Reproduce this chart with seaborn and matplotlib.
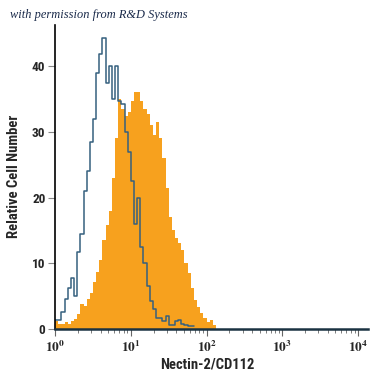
import numpy as np
import matplotlib
matplotlib.use("Agg")
import matplotlib.pyplot as plt
from matplotlib import font_manager
import seaborn as sns

# --- data: histogram counts, 24 bins per decade starting at 10^0 ---
BINS_PER_DECADE = 24

isotype_counts = [1.4, 1.4, 2.6, 4.6, 6.2, 7.7, 5.0, 11.7, 14.5, 21.0,
                  24.0, 28.5, 32.0, 39.0, 41.8, 44.3, 37.5, 40.0, 35.0, 40.0,
                  34.7, 34.2, 30.0, 27.0, 22.5, 16.0, 20.0, 12.5, 10.0, 6.5,
                  4.2, 3.0, 1.6, 1.6, 1.2, 1.9, 0.6, 0.6, 1.2, 1.4,
                  0.8, 0.6, 0.4, 0.5]

nectin_counts = [1.2, 0.8, 0.8, 1.0, 0.8, 1.2, 1.5, 2.2, 3.8, 3.5,
                 4.5, 5.5, 7.2, 8.7, 10.5, 13.5, 15.8, 18.0, 23.0, 29.0,
                 35.0, 33.5, 32.4, 33.0, 34.7, 36.0, 36.0, 34.7, 33.5, 32.7,
                 31.0, 29.5, 31.5, 29.0, 26.0, 21.5, 17.0, 15.0, 13.8, 13.0,
                 12.0, 10.0, 8.5, 6.2, 4.4, 3.4, 2.4, 1.6, 1.1, 1.4,
                 0.6]

y_ticks = [0, 10, 20, 30, 40]
x_decades = [0, 1, 2, 3, 4]

ORANGE = "#F7A11E"
BLUE = "#36607e"


def centers_for(counts):
    k = np.arange(len(counts))
    return 10 ** ((k + 0.5) / BINS_PER_DECADE)


def pick_font(candidates, stretch="normal"):
    # first family that is really installed
    for name in candidates:
        try:
            font_manager.findfont(font_manager.FontProperties(family=name, stretch=stretch),
                                  fallback_to_default=False)
            return name
        except Exception:
            continue
    return "DejaVu Sans"


sns.set_style("ticks")
narrow = pick_font(["Liberation Sans Narrow", "DejaVu Sans Condensed", "Roboto Condensed"])
plt.rcParams["font.family"] = [narrow, "DejaVu Sans"]
plt.rcParams["mathtext.fontset"] = "stix"

fig = plt.figure(figsize=(3.75, 3.75), dpi=100)
ax = fig.add_axes([0.147, 0.123, 0.834, 0.811])

# orange filled histogram (sample)
sns.histplot(x=centers_for(nectin_counts), weights=nectin_counts, log_scale=True,
             binwidth=1 / BINS_PER_DECADE, binrange=(0, len(nectin_counts) / BINS_PER_DECADE),
             element="step", fill=True, color=ORANGE, alpha=1, linewidth=0, ax=ax)

# isotype control outline
sns.histplot(x=centers_for(isotype_counts), weights=isotype_counts, log_scale=True,
             binwidth=1 / BINS_PER_DECADE, binrange=(0, len(isotype_counts) / BINS_PER_DECADE),
             element="step", fill=False, color=BLUE, linewidth=1.1, ax=ax)

ax.set_xlim(1, 10 ** 4.13)
ax.set_ylim(0, 46.3)
ax.set_yticks(y_ticks)
ax.set_yticklabels([str(v) for v in y_ticks], fontweight="bold", fontsize=9.5)
ax.set_xticks([10.0 ** d for d in x_decades])
ax.set_xticklabels([rf"$\mathbf{{10^{{{d}}}}}$" for d in x_decades], fontsize=9.5)
ax.xaxis.set_minor_locator(matplotlib.ticker.LogLocator(base=10, subs=np.arange(2, 10)))
ax.xaxis.set_minor_formatter(matplotlib.ticker.NullFormatter())

ax.tick_params(axis="y", length=5, width=0.8, color="#888888", pad=2)
ax.tick_params(axis="x", which="major", length=5, width=0.8, color="#666666", pad=3)
ax.tick_params(axis="x", which="minor", length=3, width=0.6, color="#666666")

sns.despine(ax=ax)
ax.spines["left"].set_linewidth(1.2)
ax.spines["left"].set_color("black")
ax.spines["bottom"].set_linewidth(1.8)
ax.spines["bottom"].set_color("#1a3242")

ax.set_xlabel("Nectin-2/CD112", fontweight="bold", fontsize=10.5, labelpad=5)
ax.xaxis.set_label_coords(0.486, -0.095)
ax.set_ylabel("Relative Cell Number", fontweight="bold", fontsize=10.5, labelpad=8)

fig.text(0.027, 0.953, "with permission from R&D Systems", fontsize=8.9,
         style="italic", family="Liberation Serif", color="#1a2a4a")

fig.savefig("out.png", dpi=100)
